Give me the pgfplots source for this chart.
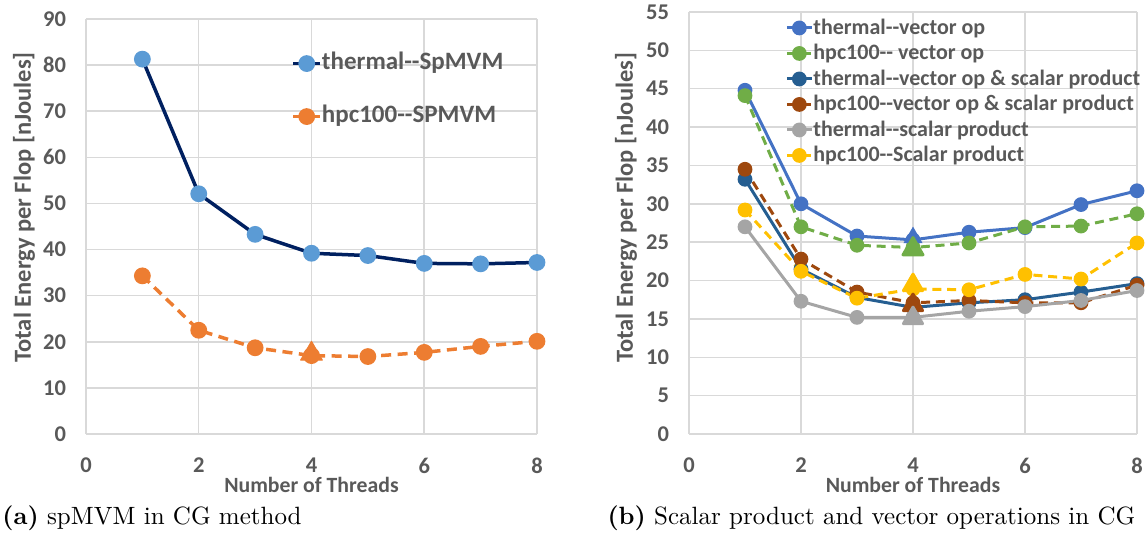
\documentclass[border=0pt]{standalone}
\usepackage{pgfplots}
\pgfplotsset{compat=1.18}
\usepackage{fontspec}
\newfontfamily\calib{Carlito}
\definecolor{txt}{HTML}{595959}
\definecolor{grd}{HTML}{D9D9D9}
\definecolor{navy}{HTML}{002060}
\definecolor{lblue}{HTML}{5B9BD5}
\definecolor{orng}{HTML}{ED7D31}
\definecolor{cA}{HTML}{4472C4}
\definecolor{cB}{HTML}{70AD47}
\definecolor{cC}{HTML}{255E91}
\definecolor{cD}{HTML}{9E480E}
\definecolor{cE}{HTML}{A5A5A5}
\definecolor{cF}{HTML}{FFC000}
\pgfplotsset{
  myax/.style={
    scale only axis, clip=false,
    xmin=0, xmax=8, xtick={0,2,4,6,8}, ymin=0,
    grid=major, major grid style={grd, line width=0.6pt},
    axis line style={draw=none}, tick style={draw=none},
    tick label style={font=\calib\bfseries\fontsize{9}{10}\selectfont, text=txt},
    /pgf/number format/assume math mode=true,
    xticklabel={\textbf{\pgfmathprintnumber{\tick}}},
    yticklabel={\textbf{\pgfmathprintnumber{\tick}}},
    xticklabel style={yshift=-6pt},
    yticklabel style={xshift=-4.5pt},
    xlabel style={font=\calib\bfseries\fontsize{8.7}{10}\selectfont, text=txt, at={(axis description cs:0.5,0)}, anchor=center, yshift=-20.4pt},
    ylabel style={font=\calib\bfseries\fontsize{9.8}{11}\selectfont, text=txt},
    legend cell align=left,
  },
}
\begin{document}
\begin{tikzpicture}
\path[use as bounding box] (0,0) rectangle (458.4pt,214.4pt);
% ---------- left ----------
\begin{axis}[myax, at={(34.4pt,40.8pt)}, anchor=south west,
  width=180.4pt, height=166pt, ymax=90, ytick distance=10,
  xlabel={Number of Threads},
  ylabel={Total Energy per Flop [nJoules]},
  ylabel style={at={(axis description cs:0,0.546)}, anchor=center, yshift=24.8pt},
  legend style={at={(axis description cs:0.4545,0.924)}, anchor=north west, draw=none, fill=none, inner sep=0pt,
    font=\calib\bfseries\fontsize{10}{12}\selectfont, text=txt, row sep=11.2pt,
    nodes={inner sep=0pt, text height=0.75em, text depth=0.25em}},
  legend image code/.code={\draw[mark repeat=2, mark phase=2] plot coordinates {(0pt,0pt) (5.4pt,0pt) (10.8pt,0pt)};},
]
\addplot[navy, line width=1.4pt, mark=*, mark size=2.65pt, mark options={draw=lblue, fill=lblue, solid}]
  coordinates {(1,81.3)(2,52.1)(3,43.3)(4,39.2)(5,38.7)(6,37.0)(7,36.9)(8,37.2)};
\addlegendentry{thermal--SpMVM}
\addplot[orng, line width=1.4pt, dash pattern=on 4pt off 2.6pt, mark=*, mark size=2.65pt, mark options={fill=orng, solid}]
  coordinates {(1,34.3)(2,22.5)(3,18.7)(4,17.0)(5,16.8)(6,17.7)(7,19.0)(8,20.1)};
\addlegendentry{hpc100--SPMVM}
\addplot[only marks, mark=triangle*, mark size=5pt, mark options={draw=orng, fill=orng, line join=round}, forget plot]
  coordinates {(4,17.4)};
\end{axis}
% ---------- right ----------
\begin{axis}[myax, at={(275.6pt,40.8pt)}, anchor=south west,
  width=179.2pt, height=168.8pt, ymax=55, ytick distance=5,
  xlabel={Number of Threads},
  ylabel={Total Energy per Flop [nJoules]},
  ylabel style={at={(axis description cs:0,0.536)}, anchor=center, yshift=25.2pt},
  legend style={at={(axis description cs:0.214,0.993)}, anchor=north west, draw=none, fill=none, inner sep=0pt,
    font=\calib\bfseries\fontsize{8.8}{10}\selectfont, text=txt, row sep=0.2pt,
    nodes={inner sep=0pt, text height=0.75em, text depth=0.25em}},
  legend image code/.code={\draw[mark repeat=2, mark phase=2] plot coordinates {(0pt,0pt) (5pt,0pt) (10pt,0pt)};},
  every axis plot/.append style={line width=1.2pt, mark=*, mark size=2.35pt},
]
\addplot[cA, mark options={fill=cA, solid}]
  coordinates {(1,44.8)(2,30.0)(3,25.8)(4,25.3)(5,26.3)(6,26.9)(7,29.9)(8,31.7)};
\addlegendentry{thermal--vector op}
\addplot[cB, dash pattern=on 3.6pt off 2.3pt, mark options={fill=cB, solid}]
  coordinates {(1,44.1)(2,27.0)(3,24.6)(4,24.3)(5,24.9)(6,27.0)(7,27.1)(8,28.7)};
\addlegendentry{hpc100-- vector op}
\addplot[cC, mark options={fill=cC, solid}]
  coordinates {(1,33.2)(2,21.5)(3,17.8)(4,16.5)(5,17.1)(6,17.5)(7,18.5)(8,19.6)};
\addlegendentry{thermal--vector op \& scalar product}
\addplot[cD, dash pattern=on 3.6pt off 2.3pt, mark options={fill=cD, solid}]
  coordinates {(1,34.5)(2,22.8)(3,18.5)(4,17.1)(5,17.4)(6,17.1)(7,17.1)(8,19.4)};
\addlegendentry{hpc100--vector op \& scalar product}
\addplot[cE, mark options={fill=cE, solid}]
  coordinates {(1,27.0)(2,17.3)(3,15.2)(4,15.2)(5,16.0)(6,16.6)(7,17.4)(8,18.7)};
\addlegendentry{thermal--scalar product}
\addplot[cF, dash pattern=on 3.6pt off 2.3pt, mark options={fill=cF, solid}]
  coordinates {(1,29.2)(2,21.2)(3,17.7)(4,18.9)(5,18.8)(6,20.8)(7,20.2)(8,24.9)};
\addlegendentry{hpc100--Scalar product}
\addplot[only marks, mark=triangle*, mark size=3.2pt, mark options={draw=cA, fill=cA, solid}, forget plot] coordinates {(4,25.6)};
\addplot[only marks, mark=triangle*, mark size=4.6pt, mark options={draw=cB, fill=cB, solid, line join=round}, forget plot] coordinates {(4,24.1)};
\addplot[only marks, mark=triangle*, mark size=4.4pt, mark options={draw=cD, fill=cD, solid, line join=round}, forget plot] coordinates {(4,16.8)};
\addplot[only marks, mark=triangle*, mark size=4.4pt, mark options={draw=cE, fill=cE, solid, line join=round}, forget plot] coordinates {(4,15.1)};
\addplot[only marks, mark=triangle*, mark size=4.4pt, mark options={draw=cF, fill=cF, solid, line join=round}, forget plot] coordinates {(4,19.4)};
\end{axis}
% ---------- captions ----------
\node[anchor=base west, inner sep=0pt] at (0.8pt,4.4pt) {\textbf{(a)} spMVM in CG method};
\node[anchor=base west, inner sep=0pt] at (242.8pt,4.4pt) {\textbf{(b)} Scalar product and vector operations in CG};
\end{tikzpicture}
\end{document}
